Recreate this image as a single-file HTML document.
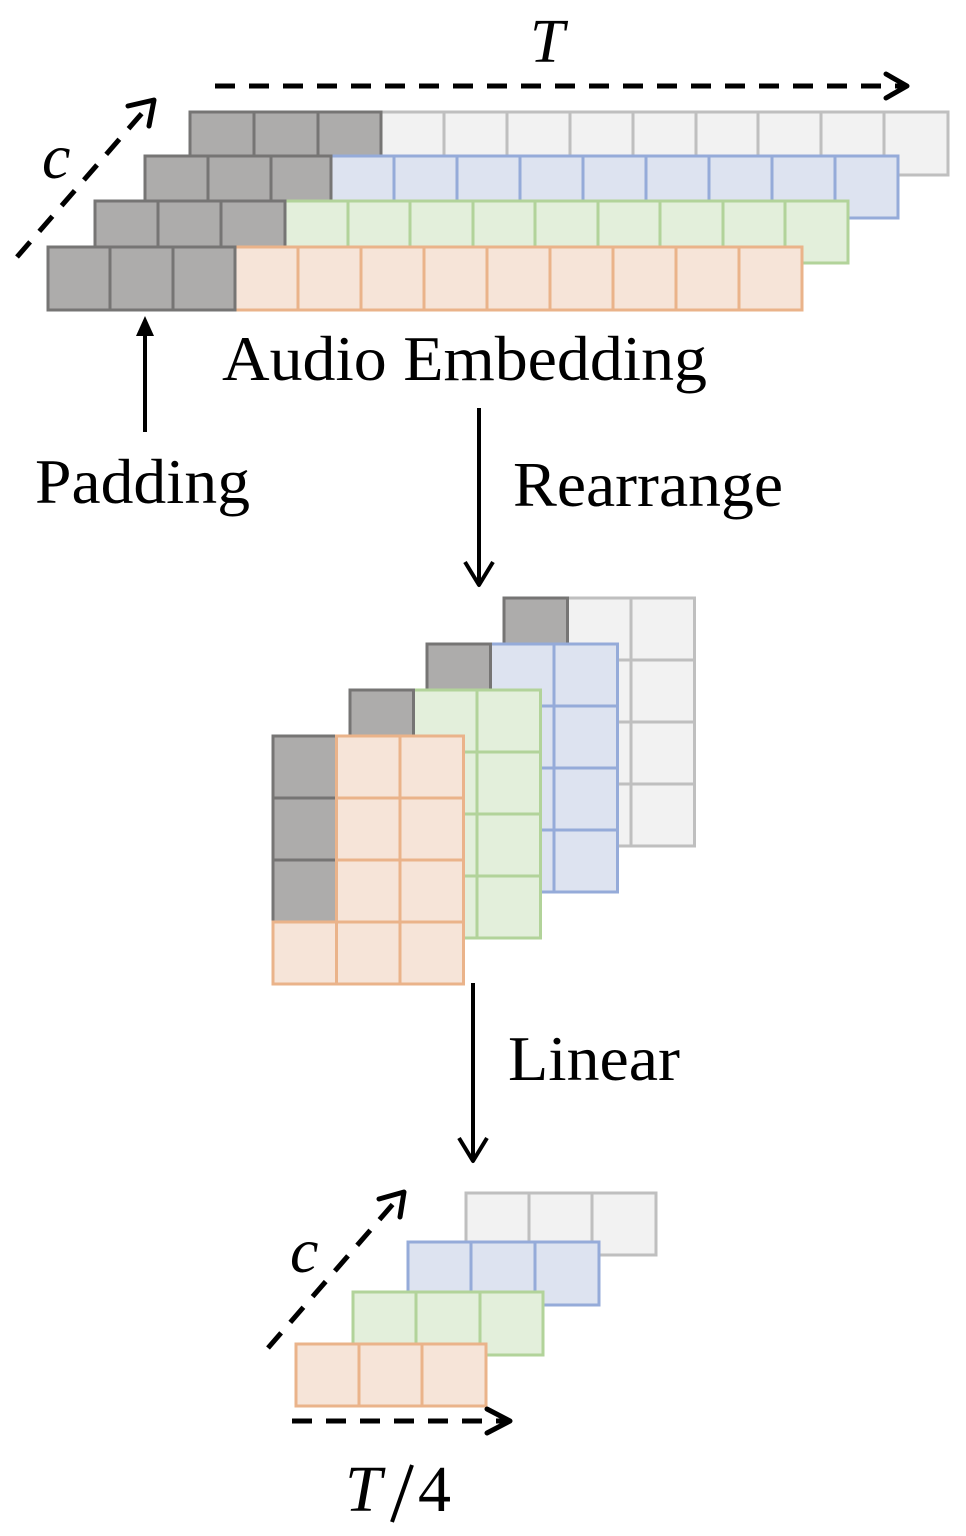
<!DOCTYPE html>
<html><head><meta charset="utf-8"><style>
html,body{margin:0;padding:0;background:#fff;}
svg{display:block;}
.g{fill:#adacab;stroke:#767574;stroke-width:3}
.l{fill:#f2f2f2;stroke:#bfbfbf;stroke-width:3}
.b{fill:#dde3f0;stroke:#95abd9;stroke-width:3}
.gr{fill:#e3efdb;stroke:#b2d39a;stroke-width:3}
.o{fill:#f6e4d8;stroke:#eab38a;stroke-width:3}
text{font-family:"Liberation Serif",serif;fill:#000}
.d{stroke:#000;stroke-width:5;fill:none;stroke-dasharray:20 14}
.h{stroke:#000;stroke-width:5;fill:none;stroke-linecap:round;stroke-linejoin:round}
.s{stroke:#000;stroke-width:4;fill:none;stroke-linejoin:round}
</style></head><body>
<svg width="966" height="1536" viewBox="0 0 966 1536" xmlns="http://www.w3.org/2000/svg">
<line class="d" x1="215" y1="86" x2="905" y2="86"/>
<polyline class="h" points="886,74 907,86 886,98"/>
<text x="530" y="62" font-size="62" font-style="italic">T</text>
<line class="d" x1="17" y1="257" x2="150" y2="104"/>
<polyline class="h" points="128,106 154,100 149,126"/>
<text x="42" y="178" font-size="64" font-style="italic">c</text>

<rect class="l" x="381" y="112" width="567" height="63"/>
<path class="l" d="M444 112V175M507 112V175M570 112V175M633 112V175M696 112V175M758 112V175M821 112V175M884 112V175"/>
<rect class="g" x="190" y="112" width="191" height="63"/>
<path class="g" d="M254 112V175M318 112V175"/>
<rect class="b" x="331" y="156" width="567" height="62"/>
<path class="b" d="M394 156V218M457 156V218M520 156V218M583 156V218M646 156V218M709 156V218M772 156V218M835 156V218"/>
<rect class="g" x="145" y="156" width="186" height="62"/>
<path class="g" d="M208 156V218M271 156V218"/>
<rect class="gr" x="285" y="201" width="563" height="62"/>
<path class="gr" d="M348 201V263M410 201V263M473 201V263M535 201V263M598 201V263M660 201V263M723 201V263M785 201V263"/>
<rect class="g" x="95" y="201" width="190" height="62"/>
<path class="g" d="M158 201V263M221 201V263"/>
<rect class="o" x="235" y="247" width="567" height="63"/>
<path class="o" d="M298 247V310M361 247V310M424 247V310M487 247V310M550 247V310M613 247V310M676 247V310M739 247V310"/>
<rect class="g" x="48" y="247" width="187" height="63"/>
<path class="g" d="M110 247V310M173 247V310"/>

<text x="222" y="380" font-size="64" textLength="485" lengthAdjust="spacingAndGlyphs">Audio Embedding</text>
<line class="s" x1="145" y1="432" x2="145" y2="330"/>
<polygon points="145,316 136,336 154,336" fill="#000"/>
<text x="35" y="503" font-size="64" textLength="215" lengthAdjust="spacingAndGlyphs">Padding</text>
<line class="s" x1="479" y1="408" x2="479" y2="582"/>
<polyline class="s" points="465,562 479,585 493,562"/>
<text x="513" y="506" font-size="64" textLength="270" lengthAdjust="spacingAndGlyphs">Rearrange</text>

<g transform="translate(504,598)">
<rect class="l" x="63.5" y="0" width="63.5" height="62"/><rect class="l" x="127" y="0" width="63.5" height="62"/>
<rect class="l" x="63.5" y="62" width="63.5" height="62"/><rect class="l" x="127" y="62" width="63.5" height="62"/>
<rect class="l" x="63.5" y="124" width="63.5" height="62"/><rect class="l" x="127" y="124" width="63.5" height="62"/>
<rect class="l" x="63.5" y="186" width="63.5" height="62"/><rect class="l" x="127" y="186" width="63.5" height="62"/>
<rect class="g" x="0" y="0" width="63.5" height="62"/>
</g>
<g transform="translate(427,644)">
<rect class="b" x="63.5" y="0" width="63.5" height="62"/><rect class="b" x="127" y="0" width="63.5" height="62"/>
<rect class="b" x="63.5" y="62" width="63.5" height="62"/><rect class="b" x="127" y="62" width="63.5" height="62"/>
<rect class="b" x="63.5" y="124" width="63.5" height="62"/><rect class="b" x="127" y="124" width="63.5" height="62"/>
<rect class="b" x="63.5" y="186" width="63.5" height="62"/><rect class="b" x="127" y="186" width="63.5" height="62"/>
<rect class="g" x="0" y="0" width="63.5" height="62"/>
</g>
<g transform="translate(350,690)">
<rect class="gr" x="63.5" y="0" width="63.5" height="62"/><rect class="gr" x="127" y="0" width="63.5" height="62"/>
<rect class="gr" x="63.5" y="62" width="63.5" height="62"/><rect class="gr" x="127" y="62" width="63.5" height="62"/>
<rect class="gr" x="63.5" y="124" width="63.5" height="62"/><rect class="gr" x="127" y="124" width="63.5" height="62"/>
<rect class="gr" x="63.5" y="186" width="63.5" height="62"/><rect class="gr" x="127" y="186" width="63.5" height="62"/>
<rect class="g" x="0" y="0" width="63.5" height="62"/>
</g>
<g transform="translate(273,736)">
<rect class="g" x="0" y="0" width="63.5" height="62"/><rect class="g" x="0" y="62" width="63.5" height="62"/><rect class="g" x="0" y="124" width="63.5" height="62"/>
<rect class="o" x="0" y="186" width="63.5" height="62"/>
<rect class="o" x="63.5" y="0" width="63.5" height="62"/><rect class="o" x="127" y="0" width="63.5" height="62"/>
<rect class="o" x="63.5" y="62" width="63.5" height="62"/><rect class="o" x="127" y="62" width="63.5" height="62"/>
<rect class="o" x="63.5" y="124" width="63.5" height="62"/><rect class="o" x="127" y="124" width="63.5" height="62"/>
<rect class="o" x="63.5" y="186" width="63.5" height="62"/><rect class="o" x="127" y="186" width="63.5" height="62"/>
</g>

<line class="s" x1="473" y1="983" x2="473" y2="1158"/>
<polyline class="s" points="459,1138 473,1161 487,1138"/>
<text x="508" y="1080" font-size="64" textLength="172" lengthAdjust="spacingAndGlyphs">Linear</text>

<line class="d" x1="268" y1="1348" x2="400" y2="1196"/>
<polyline class="h" points="379,1199 404,1192 400,1217"/>
<text x="290" y="1272" font-size="64" font-style="italic">c</text>
<rect class="l" x="466" y="1193" width="190" height="62"/>
<path class="l" d="M529 1193V1255M592 1193V1255"/>
<rect class="b" x="408" y="1242" width="191" height="63"/>
<path class="b" d="M471 1242V1305M535 1242V1305"/>
<rect class="gr" x="353" y="1292" width="190" height="63"/>
<path class="gr" d="M416 1292V1355M480 1292V1355"/>
<rect class="o" x="296" y="1344" width="190" height="62"/>
<path class="o" d="M359 1344V1406M422 1344V1406"/>
<line class="d" x1="292" y1="1421" x2="505" y2="1421"/>
<polyline class="h" points="487,1409 510,1421 487,1433"/>
<text x="345" y="1511" font-size="66" font-style="italic">T</text>
<line x1="412" y1="1465" x2="392" y2="1522" stroke="#000" stroke-width="4"/>
<text x="418" y="1511" font-size="66">4</text>
</svg>
</body></html>
